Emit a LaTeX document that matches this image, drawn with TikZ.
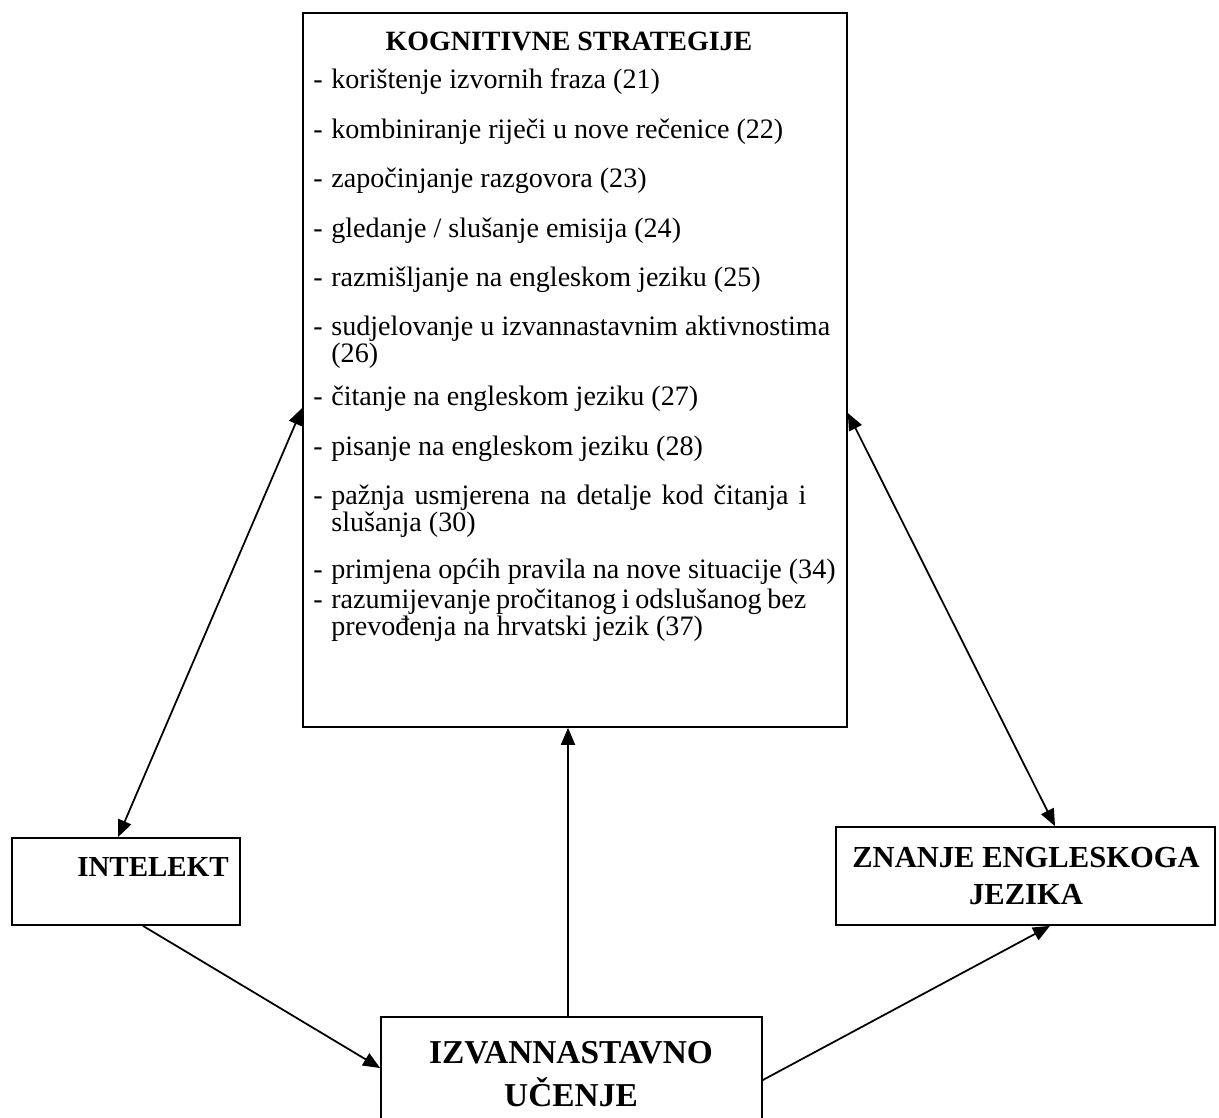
\documentclass[tikz,border=0pt]{standalone}
\usepackage{fontspec}
\setmainfont{Liberation Serif}
\usetikzlibrary{arrows.meta}

\tikzset{
  box/.style={draw=black, line width=1pt, inner sep=0pt},
  item/.style={anchor=base west, inner sep=0pt, font=\fontsize{16}{18}\selectfont},
  head/.style={inner sep=0pt, align=center, font=\bfseries\fontsize{15.9}{21}\selectfont},
  link/.style={line width=1pt, -{Triangle[length=0.34cm,width=0.28cm]}},
  twoway/.style={line width=1pt, {Triangle[length=0.34cm,width=0.28cm]}-{Triangle[length=0.34cm,width=0.28cm]}}
}

\begin{document}
\begin{tikzpicture}[x=0.02cm, y=-0.02cm]
        %% page size of the reference, everything outside is cut away
        \useasboundingbox (0,0) rectangle (1219,1117);
        \clip (0,0) rectangle (1219,1117);
        %% the four boxes
        \node[box, minimum width=10.88cm, minimum height=14.28cm] (kog) at (575,370) {};
        \node[box, minimum width=4.56cm, minimum height=1.74cm] (intelekt) at (126,881.5) {};
        \node[box, minimum width=7.58cm, minimum height=1.96cm] (znanje) at (1025.5,876) {};
        \node[box, minimum width=7.62cm, minimum height=2.66cm] (izv) at (571.5,1083.5) {};
        %% box titles
        \node[head] (kogtitle) at (569,41) {KOGNITIVNE STRATEGIJE};
        \node[head, font=\bfseries\fontsize{16.5}{21}\selectfont] (inttitle) at (153,867) {INTELEKT};
        \node[head, font=\bfseries\fontsize{17.4}{21}\selectfont] (znatitle) at (1026,876) {ZNANJE ENGLESKOGA\\JEZIKA};
        \node[head, font=\bfseries\fontsize{19}{24.6}\selectfont] (izvtitle) at (571,1074) {IZVANNASTAVNO\\U\v{C}ENJE};
        %% the list of strategies, dash and text (y = baseline)
        \foreach \y/\txt [count=\i] in {
            88/{korištenje izvornih fraza (21)},
            138/{kombiniranje riječi u nove rečenice (22)},
            187/{započinjanje razgovora (23)},
            237/{gledanje / slušanje emisija (24)},
            286/{razmišljanje na engleskom jeziku (25)},
            335/{sudjelovanje u izvannastavnim aktivnostima},
            405/{čitanje na engleskom jeziku (27)},
            455/{pisanje na engleskom jeziku (28)},
            504/{\makebox[9.5cm][s]{pažnja usmjerena na detalje kod čitanja i}},
            578/{primjena općih pravila na nove situacije (34)},
            608/{\makebox[9.5cm][s]{razumijevanje pročitanog i odslušanog bez}}}
        {
            \node[item] (dash\i) at (313,\y) {-};
            \node[item] (strat\i) at (331,\y) {\txt};
        }
        %% second lines of the long items
        \node[item] (wrap6) at (331,362) {(26)};
        \node[item] (wrap9) at (331,531) {slušanja (30)};
        \node[item] (wrap11) at (331,635) {prevođenja na hrvatski jezik (37)};
        %% arrows between the boxes
        \draw[twoway] ([xshift=-0.16cm]intelekt.north) -- ([yshift=-0.76cm]kog.west);
        \draw[twoway] ([yshift=-0.86cm]kog.east) -- ([xshift=0.59cm]znanje.north);
        \draw[link] ([xshift=-0.07cm]izv.north) -- ([xshift=-0.14cm]kog.south);
        \draw[link] ([xshift=0.34cm]intelekt.south) -- ([yshift=0.31cm]izv.west);
        \draw[link] ([yshift=0.07cm]izv.east) -- ([xshift=0.49cm]znanje.south);
        %\draw[help lines] (0,0) grid[step=50] (1219,1117);
\end{tikzpicture}
\end{document}
